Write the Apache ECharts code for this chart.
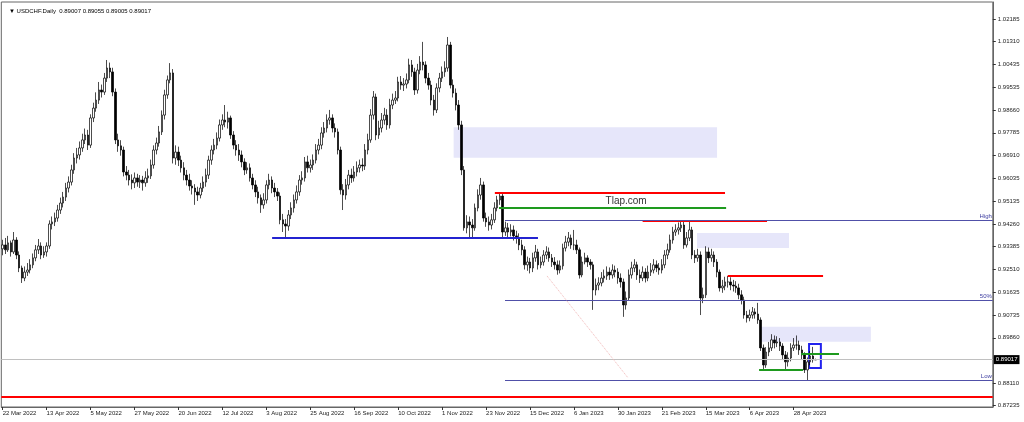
<!DOCTYPE html>
<html><head><meta charset="utf-8">
<script src="https://cdn.jsdelivr.net/npm/echarts@6/dist/echarts.min.js"></script>
<style>html,body{margin:0;padding:0;background:#fff}#c{width:1024px;height:422px}</style>
</head><body><div id="c"></div>
<script>
// ---------- data ----------
const symbolName = 'USDCHF.Daily';
const dateTickLabels = ['22 Mar 2022','13 Apr 2022','5 May 2022','27 May 2022','20 Jun 2022','12 Jul 2022','3 Aug 2022','25 Aug 2022','16 Sep 2022','10 Oct 2022','1 Nov 2022','23 Nov 2022','15 Dec 2022','6 Jan 2023','30 Jan 2023','21 Feb 2023','15 Mar 2023','6 Apr 2023','28 Apr 2023'];
const barsPerDateTick = 16;
const totalSlots = 361;
const priceTicks = [1.02185,1.01310,1.00435,0.99535,0.98660,0.97785,0.96910,0.96035,0.95135,0.94260,0.93385,0.92510,0.91635,0.90735,0.89860,0.88110,0.87235];

const opens = [0.9330,0.9345,0.9326,0.9353,0.9318,0.9364,0.9306,0.9256,0.9217,0.9240,
0.9248,0.9268,0.9295,0.9326,0.9341,0.9306,0.9318,0.9341,0.9426,0.9434,
0.9449,0.9480,0.9507,0.9530,0.9565,0.9588,0.9635,0.9681,0.9693,0.9720,
0.9751,0.9770,0.9731,0.9836,0.9874,0.9905,0.9944,0.9936,0.9990,1.0029,
1.0014,0.9936,0.9751,0.9728,0.9712,0.9627,0.9615,0.9596,0.9585,0.9604,
0.9588,0.9596,0.9585,0.9604,0.9612,0.9654,0.9712,0.9739,0.9782,0.9847,
0.9925,0.9983,1.0010,0.9681,0.9704,0.9673,0.9643,0.9615,0.9596,0.9573,
0.9565,0.9550,0.9538,0.9565,0.9588,0.9615,0.9673,0.9712,0.9731,0.9758,
0.9809,0.9828,0.9820,0.9836,0.9770,0.9731,0.9712,0.9693,0.9666,0.9635,
0.9643,0.9604,0.9577,0.9550,0.9527,0.9500,0.9519,0.9577,0.9596,0.9565,
0.9550,0.9534,0.9442,0.9426,0.9418,0.9461,0.9488,0.9519,0.9550,0.9596,
0.9604,0.9666,0.9643,0.9654,0.9673,0.9712,0.9731,0.9778,0.9797,0.9828,
0.9836,0.9797,0.9782,0.9712,0.9558,0.9538,0.9577,0.9615,0.9604,0.9627,
0.9643,0.9654,0.9650,0.9712,0.9751,0.9847,0.9917,0.9770,0.9797,0.9828,
0.9847,0.9809,0.9886,0.9905,0.9913,0.9975,0.9963,0.9967,0.9983,1.0041,
1.0014,0.9944,1.0021,1.0052,1.0041,0.9990,0.9963,0.9905,0.9867,0.9952,
0.9990,1.0014,1.0029,1.0118,0.9963,0.9932,0.9886,0.9809,0.9635,0.9411,
0.9434,0.9422,0.9411,0.9488,0.9538,0.9577,0.9449,0.9434,0.9422,0.9442,
0.9488,0.9519,0.9534,0.9395,0.9411,0.9395,0.9403,0.9380,0.9372,0.9345,
0.9326,0.9268,0.9279,0.9256,0.9295,0.9318,0.9268,0.9279,0.9306,0.9318,
0.9295,0.9279,0.9268,0.9248,0.9264,0.9333,0.9356,0.9372,0.9345,0.9345,
0.9326,0.9229,0.9279,0.9295,0.9279,0.9268,0.9171,0.9190,0.9198,0.9217,
0.9225,0.9240,0.9229,0.9248,0.9240,0.9217,0.9202,0.9113,0.9140,0.9229,
0.9256,0.9268,0.9229,0.9217,0.9240,0.9217,0.9240,0.9248,0.9268,0.9256,
0.9248,0.9268,0.9306,0.9326,0.9364,0.9395,0.9403,0.9411,0.9422,0.9345,
0.9372,0.9403,0.9306,0.9295,0.9306,0.9140,0.9152,0.9318,0.9295,0.9306,
0.9279,0.9240,0.9179,0.9186,0.9202,0.9202,0.9190,0.9186,0.9179,0.9152,
0.9132,0.9074,0.9063,0.9074,0.9086,0.9078,0.9055,0.8947,0.8881,0.8931,
0.8947,0.8978,0.8966,0.8970,0.8954,0.8920,0.8893,0.8908,0.8947,0.8958,
0.8958,0.8939,0.8920,0.8862,0.8893,0.8916,0.89007];

const highs = [0.9365,0.9372,0.9380,0.9362,0.9395,0.9375,0.9320,0.9265,0.9262,0.9275,
0.9290,0.9312,0.9345,0.9368,0.9355,0.9340,0.9355,0.9440,0.9455,0.9470,
0.9500,0.9528,0.9550,0.9585,0.9610,0.9655,0.9700,0.9720,0.9745,0.9775,
0.9795,0.9790,0.9850,0.9895,0.9935,0.9975,0.9965,1.0010,1.0060,1.0050,
1.0030,0.9950,0.9775,0.9750,0.9725,0.9650,0.9635,0.9618,0.9625,0.9620,
0.9615,0.9612,0.9630,0.9640,0.9675,0.9730,0.9760,0.9805,0.9865,0.9945,
1.0000,1.0048,1.0025,0.9730,0.9725,0.9690,0.9665,0.9635,0.9620,0.9595,
0.9580,0.9570,0.9585,0.9610,0.9640,0.9690,0.9730,0.9755,0.9780,0.9830,
0.9850,0.9886,0.9860,0.9845,0.9785,0.9750,0.9735,0.9710,0.9680,0.9665,
0.9660,0.9620,0.9595,0.9570,0.9540,0.9545,0.9595,0.9620,0.9610,0.9585,
0.9565,0.9548,0.9465,0.9445,0.9480,0.9510,0.9540,0.9575,0.9615,0.9630,
0.9685,0.9690,0.9675,0.9695,0.9735,0.9755,0.9800,0.9820,0.9850,0.9867,
0.9850,0.9815,0.9795,0.9725,0.9580,0.9600,0.9635,0.9640,0.9650,0.9668,
0.9675,0.9680,0.9735,0.9775,0.9870,0.9940,0.9930,0.9825,0.9855,0.9875,
0.9870,0.9910,0.9930,0.9940,0.9995,0.9998,0.9990,1.0008,1.0065,1.0060,
1.0030,1.0045,1.0075,1.0130,1.0055,1.0010,0.9980,0.9925,0.9970,1.0010,
1.0035,1.0055,1.0149,1.0130,0.9985,0.9950,0.9905,0.9825,0.9650,0.9460,
0.9455,0.9445,0.9505,0.9560,0.9604,0.9590,0.9470,0.9455,0.9465,0.9510,
0.9535,0.9546,0.9545,0.9435,0.9430,0.9425,0.9420,0.9400,0.9390,0.9365,
0.9340,0.9300,0.9295,0.9315,0.9345,0.9330,0.9300,0.9325,0.9340,0.9335,
0.9310,0.9298,0.9285,0.9285,0.9350,0.9380,0.9395,0.9385,0.9403,0.9365,
0.9335,0.9300,0.9315,0.9305,0.9290,0.9280,0.9215,0.9220,0.9240,0.9250,
0.9262,0.9258,0.9270,0.9265,0.9255,0.9235,0.9215,0.9165,0.9250,0.9280,
0.9290,0.9280,0.9250,0.9262,0.9255,0.9265,0.9275,0.9290,0.9285,0.9275,
0.9290,0.9325,0.9350,0.9385,0.9415,0.9425,0.9432,0.9438,0.9435,0.9395,
0.9439,0.9415,0.9325,0.9330,0.9320,0.9180,0.9340,0.9335,0.9330,0.9320,
0.9290,0.9250,0.9210,0.9222,0.9225,0.9220,0.9210,0.9205,0.9195,0.9170,
0.9145,0.9090,0.9095,0.9105,0.9100,0.9121,0.9065,0.8960,0.8950,0.8970,
0.9000,0.8995,0.8992,0.8985,0.8965,0.8935,0.8930,0.8965,0.8985,0.8995,
0.8975,0.8955,0.8930,0.8910,0.8935,0.8951,0.89055];

const lows = [0.9305,0.9310,0.9318,0.9300,0.9310,0.9290,0.9240,0.9198,0.9205,0.9225,
0.9235,0.9255,0.9282,0.9310,0.9290,0.9295,0.9300,0.9330,0.9405,0.9418,
0.9435,0.9465,0.9490,0.9515,0.9548,0.9575,0.9620,0.9660,0.9675,0.9705,
0.9735,0.9712,0.9720,0.9820,0.9860,0.9890,0.9915,0.9925,0.9975,0.9990,
0.9920,0.9735,0.9705,0.9690,0.9610,0.9595,0.9575,0.9560,0.9565,0.9570,
0.9565,0.9555,0.9570,0.9585,0.9600,0.9640,0.9695,0.9725,0.9770,0.9830,
0.9910,0.9970,0.9660,0.9655,0.9650,0.9625,0.9595,0.9575,0.9555,0.9540,
0.9500,0.9515,0.9525,0.9550,0.9570,0.9600,0.9655,0.9695,0.9715,0.9745,
0.9790,0.9800,0.9795,0.9755,0.9715,0.9690,0.9670,0.9645,0.9615,0.9620,
0.9590,0.9560,0.9530,0.9505,0.9469,0.9485,0.9505,0.9560,0.9545,0.9530,
0.9515,0.9425,0.9395,0.9372,0.9400,0.9445,0.9470,0.9505,0.9535,0.9578,
0.9590,0.9625,0.9625,0.9635,0.9660,0.9695,0.9715,0.9760,0.9780,0.9810,
0.9780,0.9760,0.9695,0.9540,0.9480,0.9520,0.9560,0.9585,0.9590,0.9610,
0.9625,0.9630,0.9635,0.9695,0.9740,0.9830,0.9750,0.9755,0.9780,0.9810,
0.9790,0.9795,0.9870,0.9890,0.9900,0.9945,0.9940,0.9950,0.9970,0.9995,
0.9925,0.9930,1.0005,1.0020,0.9970,0.9945,0.9885,0.9845,0.9855,0.9935,
0.9975,0.9995,1.0015,0.9950,0.9915,0.9865,0.9790,0.9615,0.9400,0.9390,
0.9370,0.9375,0.9400,0.9475,0.9520,0.9435,0.9415,0.9400,0.9405,0.9430,
0.9475,0.9500,0.9375,0.9380,0.9375,0.9378,0.9362,0.9350,0.9325,0.9305,
0.9250,0.9245,0.9235,0.9240,0.9280,0.9250,0.9255,0.9265,0.9290,0.9280,
0.9260,0.9250,0.9230,0.9235,0.9250,0.9320,0.9340,0.9330,0.9325,0.9310,
0.9215,0.9220,0.9270,0.9260,0.9250,0.9094,0.9150,0.9170,0.9185,0.9200,
0.9210,0.9210,0.9215,0.9220,0.9195,0.9180,0.9067,0.9095,0.9130,0.9215,
0.9240,0.9210,0.9198,0.9205,0.9200,0.9205,0.9225,0.9235,0.9240,0.9230,
0.9235,0.9255,0.9290,0.9315,0.9350,0.9380,0.9385,0.9395,0.9330,0.9335,
0.9360,0.9290,0.9275,0.9280,0.9074,0.9120,0.9140,0.9275,0.9280,0.9260,
0.9220,0.9165,0.9160,0.9170,0.9180,0.9170,0.9165,0.9160,0.9135,0.9115,
0.9060,0.9045,0.9050,0.9060,0.9060,0.9040,0.8935,0.8862,0.8870,0.8915,
0.8935,0.8945,0.8950,0.8935,0.8900,0.8862,0.8875,0.8895,0.8935,0.8940,
0.8920,0.8900,0.8850,0.8820,0.8880,0.8890,0.89005];

const closes = [0.9345,0.9326,0.9353,0.9318,0.9364,0.9306,0.9256,0.9217,0.9240,0.9248,
0.9268,0.9295,0.9326,0.9341,0.9306,0.9318,0.9341,0.9426,0.9434,0.9449,
0.9480,0.9507,0.9530,0.9565,0.9588,0.9635,0.9681,0.9693,0.9720,0.9751,
0.9770,0.9731,0.9836,0.9874,0.9905,0.9944,0.9936,0.9990,1.0029,1.0014,
0.9936,0.9751,0.9728,0.9712,0.9627,0.9615,0.9596,0.9585,0.9604,0.9588,
0.9596,0.9585,0.9604,0.9612,0.9654,0.9712,0.9739,0.9782,0.9847,0.9925,
0.9983,1.0010,0.9681,0.9704,0.9673,0.9643,0.9615,0.9596,0.9573,0.9565,
0.9550,0.9538,0.9565,0.9588,0.9615,0.9673,0.9712,0.9731,0.9758,0.9809,
0.9828,0.9820,0.9836,0.9770,0.9731,0.9712,0.9693,0.9666,0.9635,0.9643,
0.9604,0.9577,0.9550,0.9527,0.9500,0.9519,0.9577,0.9596,0.9565,0.9550,
0.9534,0.9442,0.9426,0.9418,0.9461,0.9488,0.9519,0.9550,0.9596,0.9604,
0.9666,0.9643,0.9654,0.9673,0.9712,0.9731,0.9778,0.9797,0.9828,0.9836,
0.9797,0.9782,0.9712,0.9558,0.9538,0.9577,0.9615,0.9604,0.9627,0.9643,
0.9654,0.9650,0.9712,0.9751,0.9847,0.9917,0.9770,0.9797,0.9828,0.9847,
0.9809,0.9886,0.9905,0.9913,0.9975,0.9963,0.9967,0.9983,1.0041,1.0014,
0.9944,1.0021,1.0052,1.0041,0.9990,0.9963,0.9905,0.9867,0.9952,0.9990,
1.0014,1.0029,1.0118,0.9963,0.9932,0.9886,0.9809,0.9635,0.9411,0.9434,
0.9422,0.9411,0.9488,0.9538,0.9577,0.9449,0.9434,0.9422,0.9442,0.9488,
0.9519,0.9534,0.9395,0.9411,0.9395,0.9403,0.9380,0.9372,0.9345,0.9326,
0.9268,0.9279,0.9256,0.9295,0.9318,0.9268,0.9279,0.9306,0.9318,0.9295,
0.9279,0.9268,0.9248,0.9264,0.9333,0.9356,0.9372,0.9345,0.9345,0.9326,
0.9229,0.9279,0.9295,0.9279,0.9268,0.9171,0.9190,0.9198,0.9217,0.9225,
0.9240,0.9229,0.9248,0.9240,0.9217,0.9202,0.9113,0.9140,0.9229,0.9256,
0.9268,0.9229,0.9217,0.9240,0.9217,0.9240,0.9248,0.9268,0.9256,0.9248,
0.9268,0.9306,0.9326,0.9364,0.9395,0.9403,0.9411,0.9422,0.9345,0.9372,
0.9403,0.9306,0.9295,0.9306,0.9140,0.9152,0.9318,0.9295,0.9306,0.9279,
0.9240,0.9179,0.9186,0.9202,0.9202,0.9190,0.9186,0.9179,0.9152,0.9132,
0.9074,0.9063,0.9074,0.9086,0.9078,0.9055,0.8947,0.8881,0.8931,0.8947,
0.8978,0.8966,0.8970,0.8954,0.8920,0.8893,0.8908,0.8947,0.8958,0.8958,
0.8939,0.8920,0.8862,0.8893,0.8916,0.8901,0.89017];

// annotation values (bar index, price)
const currentPrice = 0.89017;
const bottomRedLevel = 0.8760;
const blueSupport = [98.1, 194.9, 0.9372];
const redLevels = [[179.2, 263.0, 0.9545], [233.0, 278.3, 0.9439], [264.0, 298.7, 0.9225]];
const greenLevels = [[180.7, 263.4, 0.9489], [290.7, 304.5, 0.89246], [275.4, 291.4, 0.88615]];
const fibStart = 182.9;
const fibLevels = [0.94387, 0.91295, 0.88202];
const fibNames = ['High', '50%', 'Low'];
const zones = [[164.2, 260.1, 0.9800, 0.9682], [252.8, 286.3, 0.9391, 0.9333], [275.7, 316.1, 0.9029, 0.8971]];
const focusBox = [293.6, 297.9, 0.8962, 0.8869];
const trendLine = [[198.2, 0.9225], [227.7, 0.8831]];
const watermarkText = 'Tlap.com';
const watermarkAt = [227, 0.9512];

// ---------- chart ----------
const FONT = 'Liberation Sans';
const yMin = 0.87185, yMax = 1.02842;
const rightEdge = totalSlots - 0.5;
const slots = Array.from({length: totalSlots}, (_, i) => String(i));
const candleData = opens.map((o, i) => [o, closes[i], lows[i], highs[i]]);
const last = closes.length - 1;
const header = '\u25BC ' + symbolName + '  ' + [opens[last], highs[last], lows[last], closes[last]].map(v => v.toFixed(5)).join(' ');
const isDateTick = (idx) => idx % barsPerDateTick === 0 && idx / barsPerDateTick < dateTickLabels.length;

function hSeg(x1, x2, y, color, width, extra) {
  return [Object.assign({coord: [x1, y], lineStyle: {color: color, width: width, type: 'solid'}}, extra || {}), {coord: [x2, y]}];
}

const lineMarks = [];
lineMarks.push(hSeg(blueSupport[0], blueSupport[1], blueSupport[2], '#2323d0', 2));
redLevels.forEach(r => lineMarks.push(hSeg(r[0], r[1], r[2], '#ff0000', 2)));
greenLevels.forEach(g => lineMarks.push(hSeg(g[0], g[1], g[2], '#1e9a1e', 2)));
fibLevels.forEach((v, k) => lineMarks.push(hSeg(fibStart, rightEdge, v, '#5050a8', 1, {
  label: {show: true, formatter: fibNames[k], position: 'insideEndTop', distance: 1, fontSize: 6, color: '#3c3ca0', fontFamily: FONT}
})));
lineMarks.push([{coord: trendLine[0], lineStyle: {color: '#f2b8b8', width: 1, type: 'dotted'}}, {coord: trendLine[1]}]);

const chart = echarts.init(document.getElementById('c'), null, {renderer: 'canvas'});
chart.setOption({
  animation: false,
  backgroundColor: '#ffffff',
  textStyle: {fontFamily: FONT},
  title: {text: header, left: 4, top: 3, textStyle: {fontSize: 6, fontWeight: 'normal', color: '#000', fontFamily: FONT}},
  grid: {left: 1.3, top: 2, width: 991.5, height: 405, show: true, borderColor: '#666', borderWidth: 1, backgroundColor: '#fff', containLabel: false, outerBoundsMode: 'none'},
  xAxis: [{
    type: 'category', data: slots, boundaryGap: true,
    axisLine: {show: true, lineStyle: {color: '#666'}},
    axisTick: {show: true, alignWithLabel: true, interval: isDateTick, length: 3, lineStyle: {color: '#333'}},
    axisLabel: {show: true, interval: isDateTick, formatter: (v, idx) => dateTickLabels[idx / barsPerDateTick], align: 'left', margin: 3, fontSize: 6, color: '#222', fontFamily: FONT},
    splitLine: {show: false}
  }, {
    type: 'value', min: -0.5, max: rightEdge, show: false,
    axisTick: {show: false}, axisLine: {show: false}, axisLabel: {show: false}, splitLine: {show: false}
  }],
  yAxis: {
    type: 'value', position: 'right', min: yMin, max: yMax,
    axisLine: {show: true, onZero: false, lineStyle: {color: '#666'}},
    axisTick: {show: true, inside: false, customValues: priceTicks, length: 3, lineStyle: {color: '#333'}},
    axisLabel: {customValues: priceTicks, formatter: v => v.toFixed(5), fontSize: 6, color: '#222', margin: 5, fontFamily: FONT},
    splitLine: {show: false}, minorTick: {show: false}, minorSplitLine: {show: false}
  },
  series: [{
    type: 'line', xAxisIndex: 1, data: [], z: 1, silent: true,
    markArea: {silent: true, label: {show: false},
      itemStyle: {color: '#e6e6fa'},
      data: zones.map(z => [{coord: [z[0], z[2]]}, {coord: [z[1], z[3]]}])}
  }, {
    type: 'candlestick', xAxisIndex: 0, data: candleData, z: 2, barWidth: 2,
    itemStyle: {color: '#ffffff', color0: '#000000', borderColor: '#000000', borderColor0: '#000000', borderWidth: 0.7},
    markLine: {silent: true, symbol: ['none', 'none'], animation: false, precision: 6,
      data: [
        {yAxis: currentPrice, lineStyle: {color: '#c0c0c0', width: 1, type: 'solid'},
          label: {show: true, position: 'end', formatter: currentPrice.toFixed(5), color: '#fff', backgroundColor: '#000', fontSize: 6, padding: [2, 2, 1, 2], distance: 1, fontFamily: FONT}},
        {yAxis: bottomRedLevel, lineStyle: {color: '#ff0000', width: 2, type: 'solid'}, label: {show: false}}
      ]}
  }, {
    type: 'line', xAxisIndex: 1, data: [], z: 3, silent: true,
    markLine: {silent: true, symbol: ['none', 'none'], animation: false, precision: 6, label: {show: false}, data: lineMarks},
    markArea: {silent: true, label: {show: false},
      itemStyle: {color: 'rgba(0,0,0,0)', borderColor: '#2222ee', borderWidth: 2},
      data: [[{coord: [focusBox[0], focusBox[2]]}, {coord: [focusBox[1], focusBox[3]]}]]},
    markPoint: {silent: true, animation: false,
      data: [{coord: watermarkAt, symbol: 'circle', symbolSize: 0.1, itemStyle: {color: 'rgba(0,0,0,0)'},
        label: {show: true, position: 'inside', formatter: watermarkText, fontSize: 10, color: '#333', fontFamily: FONT}}]}
  }]
});
</script>
</body></html>
